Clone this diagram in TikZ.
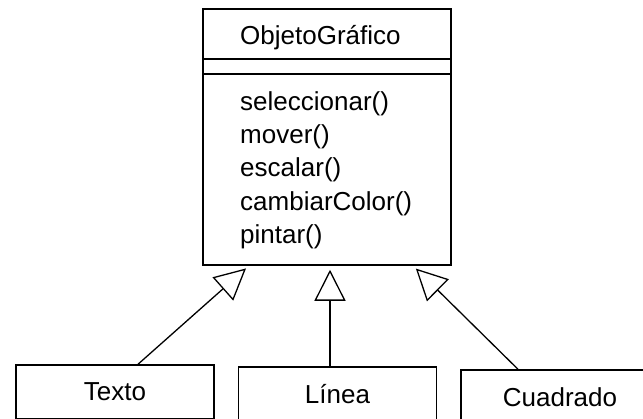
\documentclass[tikz,border=0pt]{standalone}
\usepackage{fontspec}
\setmainfont{Liberation Sans}
\usepackage{tikz}
\usetikzlibrary{arrows.meta, positioning, calc}
\tikzset{
	clase/.style={rectangle, draw=black, line width=1.5pt, minimum width=248pt, minimum height=256pt, inner sep=0pt},
	subclase/.style={rectangle, draw=black, line width=1.5pt, minimum width=198pt, minimum height=54pt, inner sep=0pt, text centered, font=\fontsize{26}{30}\selectfont},
	miembro/.style={anchor=west, inner sep=0pt, font=\fontsize{26}{30}\selectfont},
	herencia/.style={-{Triangle[open, length=31pt, width=31pt, line width=1.3pt]}, line width=1.3pt, shorten >=4pt},
}
\begin{document}
\begin{tikzpicture}[x=1pt, y=-1pt]
	\clip (0,0) rectangle (643,418);
	\node[clase] (obj) at (327,137) {};
	\node[miembro] (nombre) at (240,38) {ObjetoGráfico};
	\draw[line width=1.5pt] (obj.west |- 0,59) -- (obj.east |- 0,59);
	\draw[line width=1.5pt] (obj.west |- 0,74) -- (obj.east |- 0,74);
	% operaciones
	\node[miembro] (m1) at (240,104) {seleccionar()};
	\node[miembro] (m2) at (240,137) {mover()};
	\node[miembro] (m3) at (240,170) {escalar()};
	\node[miembro] (m4) at (240,204) {cambiarColor()};
	\node[miembro] (m5) at (240,237) {pintar()};
	% subclases
	\node[subclase] (texto) at (115,392) {Texto};
	\node[subclase] (linea) at (337.5,394) {Línea};
	\node[subclase] (cuadrado) at (560,397) {Cuadrado};
	\draw[herencia] ([xshift=23pt]texto.north) -- ([xshift=-78pt]obj.south);
	\draw[herencia] ([xshift=-7.5pt]linea.north) -- ([xshift=3pt]obj.south);
	\draw[herencia] ([xshift=-42pt]cuadrado.north) -- ([xshift=86pt]obj.south);
\end{tikzpicture}
\end{document}
